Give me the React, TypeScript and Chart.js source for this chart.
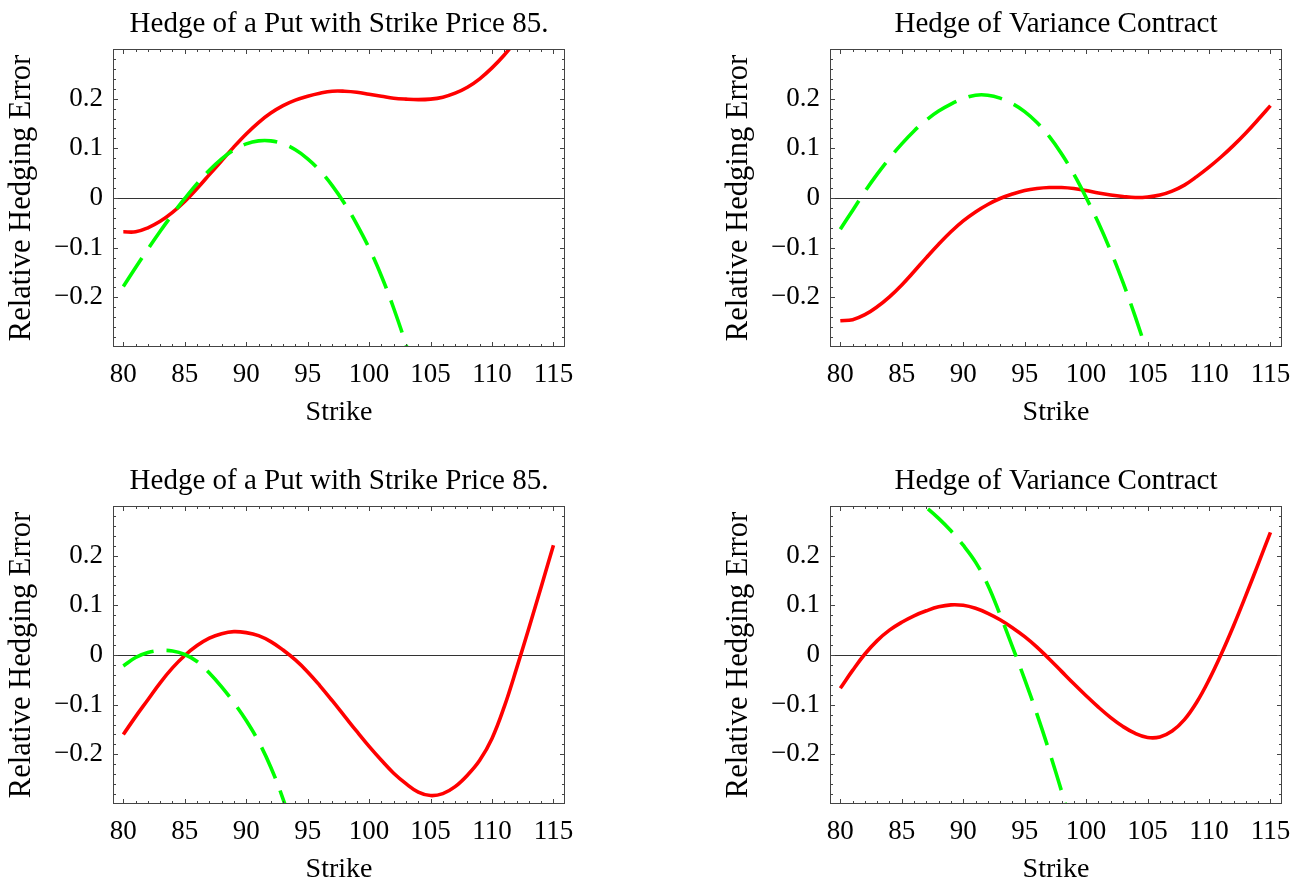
import React, { useEffect, useRef } from 'react';
import { Chart, registerables } from 'chart.js';

Chart.register(...registerables);

// ---- data ----
const strikes = [80, 81, 82, 83, 84, 85, 86, 87, 88, 89, 90, 91, 92, 93, 94, 95, 96, 97, 98, 99, 100, 101, 102, 103, 104, 105, 106, 107, 108, 109, 110, 111, 112, 113, 114, 115];
const xTickValues = [80, 85, 90, 95, 100, 105, 110, 115];
const yTickValues = [-0.2, -0.1, 0, 0.1, 0.2];
const yTickLabels = ['\u22120.2', '\u22120.1', '0', '0.1', '0.2'];

const titlePut = 'Hedge of a Put with Strike Price 85.';
const titleVariance = 'Hedge of Variance Contract';
const xAxisLabel = 'Strike';
const yAxisLabel = 'Relative Hedging Error';

// top-left: put hedge (first model)
const putTopSolid = [-0.068, -0.068, -0.060, -0.047, -0.029, -0.007, 0.019, 0.047, 0.075, 0.103, 0.129, 0.152, 0.171, 0.186, 0.197, 0.205, 0.211, 0.215, 0.215, 0.213, 0.209, 0.205, 0.201, 0.199, 0.198, 0.199, 0.203, 0.211, 0.223, 0.240, 0.262, 0.288, 0.318, 0.352, 0.390, 0.430];
const putTopDashed = [-0.178, -0.140, -0.103, -0.067, -0.033, -0.001, 0.029, 0.056, 0.079, 0.097, 0.109, 0.115, 0.115, 0.109, 0.097, 0.079, 0.055, 0.025, -0.011, -0.053, -0.101, -0.157, -0.222, -0.295, -0.375, -0.460];

// top-right: variance hedge (first model)
const varTopSolid = [-0.247, -0.245, -0.235, -0.219, -0.199, -0.175, -0.148, -0.120, -0.093, -0.068, -0.046, -0.028, -0.013, -0.001, 0.008, 0.015, 0.019, 0.021, 0.021, 0.019, 0.015, 0.010, 0.006, 0.003, 0.001, 0.002, 0.006, 0.014, 0.026, 0.043, 0.062, 0.083, 0.106, 0.131, 0.158, 0.186];
const varTopDashed = [-0.063, -0.025, 0.013, 0.048, 0.080, 0.109, 0.135, 0.157, 0.175, 0.189, 0.200, 0.207, 0.207, 0.201, 0.190, 0.174, 0.152, 0.124, 0.089, 0.048, 0.001, -0.050, -0.107, -0.170, -0.239, -0.315, -0.397];

// bottom-left: put hedge (second model)
const putBottomSolid = [-0.160, -0.124, -0.090, -0.056, -0.026, -0.001, 0.019, 0.034, 0.043, 0.047, 0.045, 0.039, 0.027, 0.010, -0.010, -0.034, -0.062, -0.092, -0.123, -0.154, -0.184, -0.212, -0.238, -0.259, -0.276, -0.283, -0.279, -0.265, -0.242, -0.212, -0.168, -0.104, -0.027, 0.054, 0.137, 0.221];
const putBottomDashed = [-0.022, -0.005, 0.005, 0.009, 0.008, 0.001, -0.013, -0.036, -0.064, -0.096, -0.132, -0.174, -0.226, -0.290, -0.366, -0.450];

// bottom-right: variance hedge (second model)
const varBottomSolid = [-0.067, -0.031, 0.002, 0.029, 0.050, 0.066, 0.079, 0.089, 0.097, 0.101, 0.100, 0.094, 0.084, 0.071, 0.055, 0.037, 0.016, -0.008, -0.033, -0.058, -0.082, -0.105, -0.126, -0.144, -0.158, -0.166, -0.165, -0.153, -0.130, -0.095, -0.050, 0.002, 0.059, 0.120, 0.183, 0.247];
const varBottomDashed = [0.340, 0.345, 0.346, 0.343, 0.337, 0.328, 0.316, 0.297, 0.275, 0.250, 0.221, 0.187, 0.141, 0.081, 0.017, -0.049, -0.119, -0.194, -0.274, -0.359, -0.449];

// ---- styling ----
const FONT = '"Liberation Serif", "Times New Roman", Times, serif';
const CANVAS_W = 586;
const CANVAS_H = 427;

const framePlugin = {
  id: 'mmaFrame',
  afterDatasetsDraw(chart: any) {
    const { ctx, chartArea: a, scales } = chart;
    const xs = scales.x;
    const ys = scales.y;
    ctx.save();
    ctx.strokeStyle = '#444';
    ctx.lineWidth = 1;
    ctx.strokeRect(Math.round(a.left) + 0.5, Math.round(a.top) + 0.5, Math.round(a.right - a.left) - 1, Math.round(a.bottom - a.top) - 1);
    ctx.beginPath();
    for (let v = 80; v <= 115; v++) {
      const px = Math.round(xs.getPixelForValue(v)) + 0.5;
      const len = v % 5 === 0 ? 5 : 3;
      ctx.moveTo(px, a.bottom);
      ctx.lineTo(px, a.bottom - len);
      ctx.moveTo(px, a.top);
      ctx.lineTo(px, a.top + len);
    }
    for (let k = -14; k <= 14; k++) {
      const py = Math.round(ys.getPixelForValue(k * 0.02)) + 0.5;
      const len = k % 5 === 0 ? 5 : 3;
      ctx.moveTo(a.left, py);
      ctx.lineTo(a.left + len, py);
      ctx.moveTo(a.right, py);
      ctx.lineTo(a.right - len, py);
    }
    ctx.stroke();
    ctx.restore();
  },
};

function toPoints(values: number[]) {
  return values.map((v, i) => ({ x: strikes[i], y: v }));
}

function makeConfig(title: string, solid: number[], dashed: number[]): any {
  return {
    type: 'line',
    data: {
      datasets: [
        {
          data: toPoints(dashed),
          borderColor: '#00ff00',
          borderWidth: 3.6,
          borderDash: [34, 13],
          pointRadius: 0,
          tension: 0.4,
          clip: 0,
          fill: false,
        },
        {
          data: toPoints(solid),
          borderColor: '#ff0000',
          borderWidth: 3.6,
          pointRadius: 0,
          tension: 0.4,
          clip: 0,
          fill: false,
        },
      ],
    },
    options: {
      animation: false,
      responsive: false,
      events: [],
      layout: { padding: { left: 0, top: 0, right: CANVAS_W - 565, bottom: 0 } },
      elements: { line: { capBezierPoints: false } },
      plugins: {
        legend: { display: false },
        tooltip: { enabled: false },
        title: {
          display: true,
          text: title,
          fullSize: false,
          color: '#000',
          font: { family: FONT, size: 29, weight: 'normal', lineHeight: 1.2 },
          padding: { top: 6.5, bottom: 7.7 },
        },
      },
      scales: {
        x: {
          type: 'linear',
          min: 79.16,
          max: 115.94,
          afterFit: (s: any) => {
            s.height = 80;
          },
          afterBuildTicks: (s: any) => {
            s.ticks = xTickValues.map((v) => ({ value: v }));
          },
          grid: { display: false, drawTicks: false },
          border: { display: false },
          ticks: {
            color: '#000',
            font: { family: FONT, size: 27, lineHeight: 1.2 },
            padding: 12,
            maxRotation: 0,
            autoSkip: false,
            callback: (v: any) => String(v),
          },
          title: {
            display: true,
            text: xAxisLabel,
            color: '#000',
            font: { family: FONT, size: 28, lineHeight: 1 },
            padding: 0,
          },
        },
        y: {
          type: 'linear',
          min: -0.3,
          max: 0.3,
          afterFit: (s: any) => {
            s.width = 113;
          },
          afterBuildTicks: (s: any) => {
            s.ticks = yTickValues.map((v) => ({ value: v }));
          },
          grid: {
            drawTicks: false,
            lineWidth: 1,
            color: (c: any) => (c.tick && Math.abs(c.tick.value) < 1e-9 ? '#333' : 'rgba(0,0,0,0)'),
          },
          border: { display: false },
          ticks: {
            color: '#000',
            font: { family: FONT, size: 27, lineHeight: 1.2 },
            padding: 10,
            autoSkip: false,
            callback: (v: any) => {
              const idx = yTickValues.findIndex((t) => Math.abs(t - v) < 1e-9);
              return idx >= 0 ? yTickLabels[idx] : '';
            },
          },
          title: {
            display: true,
            text: yAxisLabel,
            color: '#000',
            font: { family: FONT, size: 30.5, lineHeight: 1 },
            padding: { top: 6.5, bottom: 0 },
          },
        },
      },
    },
    plugins: [framePlugin],
  };
}

function Panel(props: { left: number; top: number; title: string; solid: number[]; dashed: number[] }) {
  const ref = useRef<HTMLCanvasElement | null>(null);
  useEffect(() => {
    if (!ref.current) return;
    const chart = new Chart(ref.current, makeConfig(props.title, props.solid, props.dashed));
    return () => chart.destroy();
  }, [props.title, props.solid, props.dashed]);
  return (
    <canvas
      ref={ref}
      width={CANVAS_W}
      height={CANVAS_H}
      style={{ position: 'absolute', left: props.left, top: props.top, width: CANVAS_W, height: CANVAS_H, display: 'block' }}
    />
  );
}

export default function App() {
  return (
    <div style={{ position: 'fixed', left: 0, top: 0, width: 1303, height: 884, background: '#fff', overflow: 'hidden' }}>
      <Panel left={0} top={0} title={titlePut} solid={putTopSolid} dashed={putTopDashed} />
      <Panel left={717} top={0} title={titleVariance} solid={varTopSolid} dashed={varTopDashed} />
      <Panel left={0} top={457} title={titlePut} solid={putBottomSolid} dashed={putBottomDashed} />
      <Panel left={717} top={457} title={titleVariance} solid={varBottomSolid} dashed={varBottomDashed} />
    </div>
  );
}
